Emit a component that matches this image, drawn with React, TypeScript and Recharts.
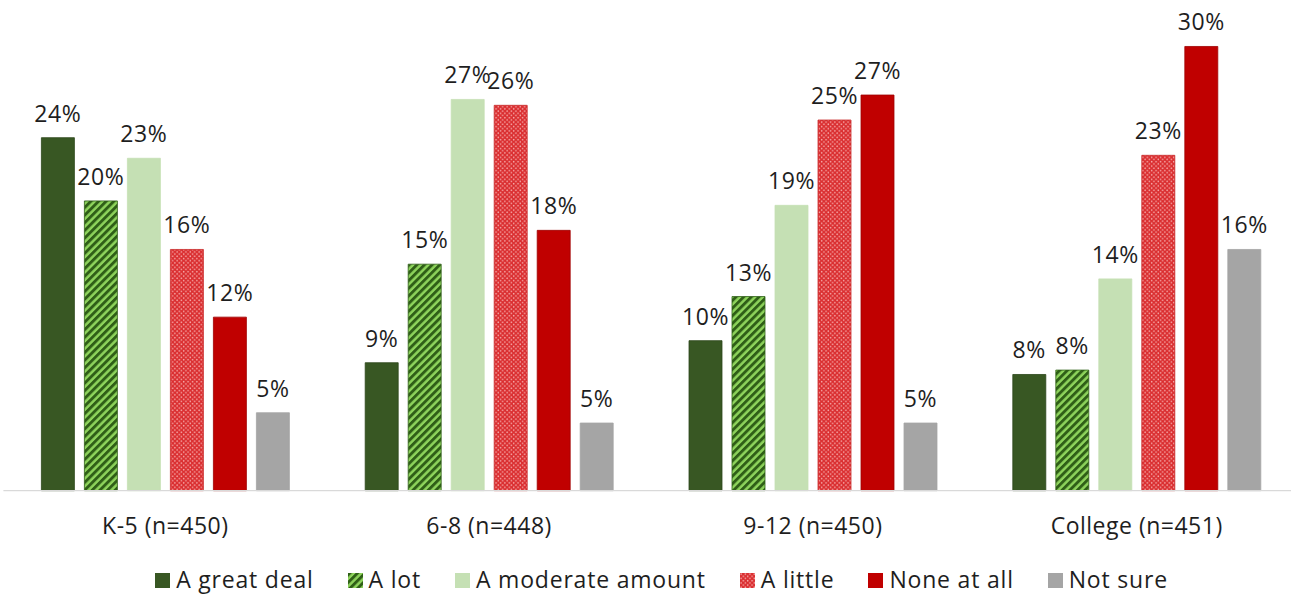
import React from "react";
import { BarChart, Bar, XAxis, YAxis, LabelList, Legend } from "recharts";

const categories = ["K-5 (n=450)", "6-8 (n=448)", "9-12 (n=450)", "College (n=451)"];
const greatDeal = [24.0, 8.7, 10.2, 7.9];
const aLot = [19.7, 15.4, 13.2, 8.2];
const moderate = [22.6, 26.6, 19.4, 14.4];
const aLittle = [16.4, 26.2, 25.2, 22.8];
const noneAtAll = [11.8, 17.7, 26.9, 30.2];
const notSure = [5.3, 4.6, 4.6, 16.4];

const seriesNames = ["A great deal", "A lot", "A moderate amount", "A little", "None at all", "Not sure"];
const seriesKeys = ["greatDeal", "aLot", "moderate", "aLittle", "noneAtAll", "notSure"];

const data = categories.map((c, i) => ({
  name: c,
  greatDeal: greatDeal[i],
  aLot: aLot[i],
  moderate: moderate[i],
  aLittle: aLittle[i],
  noneAtAll: noneAtAll[i],
  notSure: notSure[i],
}));

const FONT = "'Open Sans', sans-serif";
const TEXT = "#1e1e1e";

const fills = [
  "#385723",
  "url(#stripesPat)",
  "#C5E0B4",
  "url(#dotsPat)",
  "#C00000",
  "#A5A5A5",
];
const strokes = ["#2B4519", "#2F5F17", "#C5E0B4", "#C82828", "#A00000", "#A5A5A5"];

const PatternDefs = ({ suffix = "" }: { suffix?: string }) => (
  <defs>
    <pattern id={"stripesPat" + suffix} patternUnits="userSpaceOnUse" width="5.4" height="5.4" patternTransform="rotate(45)">
      <rect x="0" y="0" width="5.4" height="5.4" fill="#8ED45C" />
      <rect x="0" y="0" width="2.9" height="5.4" fill="#2F5F17" />
    </pattern>
    <pattern id={"dotsPat" + suffix} patternUnits="userSpaceOnUse" width="4.4" height="4.4">
      <rect x="0" y="0" width="4.4" height="4.4" fill="#DA2E30" />
      <circle cx="1.1" cy="1.1" r="0.8" fill="#F6A8A8" />
      <circle cx="3.3" cy="3.3" r="0.8" fill="#F6A8A8" />
    </pattern>
  </defs>
);

const legendFills = ["#385723", "url(#stripesPatL)", "#C5E0B4", "url(#dotsPatL)", "#C00000", "#A5A5A5"];

const renderLegend = () => (
  <div
    style={{
      display: "flex",
      justifyContent: "center",
      alignItems: "center",
      fontFamily: FONT,
      fontSize: 23,
      letterSpacing: 0.8,
      color: TEXT,
      whiteSpace: "nowrap",
    }}
  >
    {seriesNames.map((n, i) => (
      <div key={n} style={{ display: "flex", alignItems: "center", marginLeft: i === 0 ? 0 : 34 }}>
        <svg width={15} height={15} style={{ marginRight: 6, marginTop: 2 }}>
          {i === 0 ? <PatternDefs suffix="L" /> : null}
          <rect x={0} y={0} width={15} height={15} fill={legendFills[i]} />
        </svg>
        <span>{n}</span>
      </div>
    ))}
  </div>
);

export default function App() {
  return (
    <div style={{ position: "absolute", left: 0, top: 0, width: 1291, height: 597, background: "#fff" }}>
      <BarChart
        width={1291}
        height={597}
        data={data}
        margin={{ top: 20, right: -7.6, bottom: 46.3, left: 3.4 }}
        barGap={10}
      >
        <PatternDefs />
        <XAxis
          dataKey="name"
          height={60}
          tickSize={0}
          tickMargin={27}
          axisLine={{ stroke: "#D9D9D9", strokeWidth: 1.2 }}
          tickLine={false}
          tick={{ fontFamily: FONT, fontSize: 23, fill: TEXT, letterSpacing: 0.5 }}
          interval={0}
        />
        <YAxis hide domain={[0, 32]} />
        <Legend
          layout="horizontal"
          verticalAlign="middle"
          align="center"
          content={renderLegend}
          wrapperStyle={{ top: 563, left: 16, width: 1291 }}
        />
        {seriesKeys.map((k, i) => (
          <Bar
            key={k}
            dataKey={k}
            name={seriesNames[i]}
            fill={fills[i]}
            stroke={strokes[i]}
            strokeWidth={0.8}
            barSize={33}
            isAnimationActive={false}
          >
            <LabelList
              dataKey={k}
              position="top"
              offset={16}
              formatter={(v: any) => `${Math.round(Number(v))}%`}
              style={{ fontFamily: FONT, fontSize: 23, fill: TEXT, letterSpacing: 0.6 }}
            />
          </Bar>
        ))}
      </BarChart>
    </div>
  );
}
